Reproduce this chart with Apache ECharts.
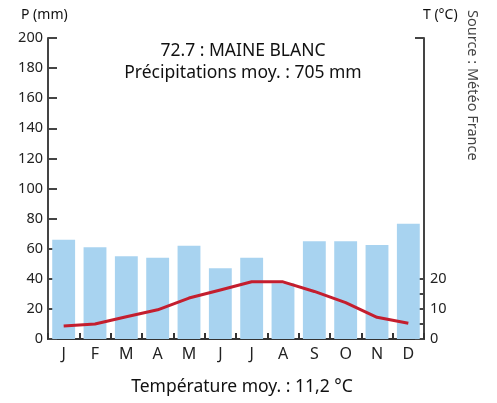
<!DOCTYPE html>
<html>
<head>
<meta charset="utf-8">
<script src="https://cdn.jsdelivr.net/npm/echarts@6/dist/echarts.min.js"></script>
<style>
html,body{margin:0;padding:0;background:#fff;}
#c{width:497px;height:403px;}
</style>
</head>
<body>
<div id="c"></div>
<script>
const months = ['J','F','M','A','M','J','J','A','S','O','N','D'];
const precipitation = [66, 61, 55, 54, 62, 47, 54, 37, 65, 65, 62.5, 76.5];
const temperature = [4.3, 5.0, 7.4, 9.7, 13.6, 16.3, 19.0, 19.0, 15.8, 12.1, 7.2, 5.2];
const pTicks = [0,20,40,60,80,100,120,140,160,180,200];
const tLabels = [0,10,20];
const tTicks = [0,5,10,15,20,100];

const FONT = 'Noto Sans';
const chart = echarts.init(document.getElementById('c'), null, {renderer:'canvas'});
chart.setOption({
  animation:false,
  textStyle:{fontFamily:FONT},
  grid:{left:48, right:73, top:38, bottom:64, containLabel:false},
  title:[
    {text:'72.7 : MAINE BLANC', left:238, top:37, textAlign:'center',
     textStyle:{fontFamily:FONT, fontSize:17.5, fontWeight:'normal', color:'#111'}},
    {text:'Précipitations moy. : 705 mm', left:238, top:59, textAlign:'center',
     textStyle:{fontFamily:FONT, fontSize:17.5, fontWeight:'normal', color:'#111'}},
    {text:'Température moy. : 11,2 °C', left:237, top:373, textAlign:'center',
     textStyle:{fontFamily:FONT, fontSize:17.5, fontWeight:'normal', color:'#111'}}
  ],
  graphic:[
    {type:'text', left:21, top:8, style:{text:'P (mm)', font:'14px "Noto Sans"', fill:'#111'}},
    {type:'text', left:423, top:8, style:{text:'T (°C)', font:'14px "Noto Sans"', fill:'#111'}},
    {type:'text', x:465, y:10, rotation:-Math.PI/2,
     style:{text:'Source : Météo France', font:'14.5px "Noto Sans"', fill:'#444', textAlign:'left', textVerticalAlign:'bottom'}}
  ],
  xAxis:{
    type:'category', data:months, boundaryGap:true,
    axisLine:{lineStyle:{color:'#333', width:2}},
    axisTick:{show:true, inside:true, length:6, lineStyle:{color:'#333', width:2}},
    axisLabel:{color:'#222', fontSize:16, margin:7, fontFamily:FONT}
  },
  yAxis:[
    {type:'value', min:0, max:200, interval:20, position:'left',
     axisLine:{show:true, lineStyle:{color:'#444', width:2}},
     axisTick:{show:true, inside:true, length:9, lineStyle:{color:'#444', width:2}},
     axisLabel:{color:'#222', fontSize:14.5, margin:5, fontFamily:FONT},
     splitLine:{show:false}},
    {type:'value', min:0, max:100, interval:5, position:'right',
     axisLine:{show:true, lineStyle:{color:'#444', width:2}},
     axisTick:{show:true, inside:true, length:9, customValues:tTicks, lineStyle:{color:'#444', width:2}},
     axisLabel:{color:'#222', fontSize:14.5, margin:6, customValues:tLabels, fontFamily:FONT},
     splitLine:{show:false}}
  ],
  series:[
    {type:'bar', data:precipitation, yAxisIndex:0, barWidth:'73%',
     itemStyle:{color:'#a8d3f0'}},
    {type:'line', data:temperature, yAxisIndex:1, symbol:'none', smooth:false,
     lineStyle:{color:'#c41e2e', width:3}, z:5}
  ]
});
</script>
</body>
</html>
